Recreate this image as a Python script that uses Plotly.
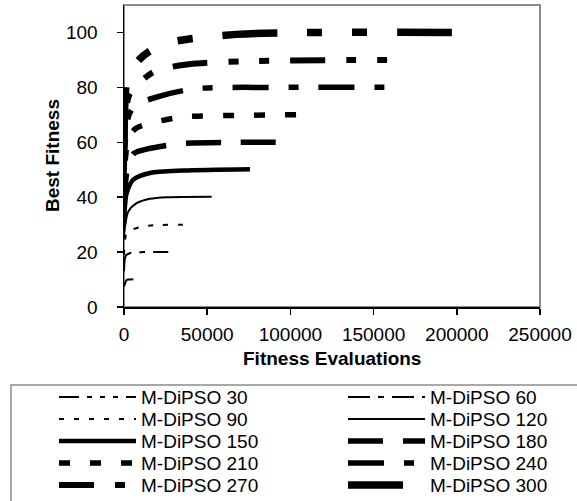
import plotly.graph_objects as go

# ---------------- data ----------------
series_names = ["M-DiPSO 30", "M-DiPSO 60", "M-DiPSO 90", "M-DiPSO 120", "M-DiPSO 150",
                "M-DiPSO 180", "M-DiPSO 210", "M-DiPSO 240", "M-DiPSO 270", "M-DiPSO 300"]

evals_30 = [0, 600, 1600, 3000, 5600]
fit_30 = [7.5, 8.5, 9.8, 10.0, 10.1]

evals_60 = [0, 600, 1600, 4600, 11600, 26600]
fit_60 = [13, 17.8, 19.0, 19.8, 20.0, 20.0]

evals_90 = [0, 1200, 2600, 9600, 18600, 39700]
fit_90 = [19, 26.3, 27.5, 29.1, 29.8, 30.0]

evals_120 = [0, 600, 2600, 7600, 15600, 25600, 52700]
fit_120 = [25, 29.3, 34.8, 37.8, 39.4, 40.0, 40.2]

evals_150 = [0, 600, 1600, 5600, 15600, 35600, 75700]
fit_150 = [30, 37, 41.5, 46.4, 48.8, 49.7, 50.2]

evals_180 = [0, 1000, 3000, 6000, 13600, 33600, 67700, 97000]
fit_180 = [36, 46, 53, 56, 57.5, 59.5, 60.0, 60.0]

evals_210 = [0, 1000, 3000, 7000, 12600, 33600, 69700, 111000]
fit_210 = [42, 55, 62, 65, 66.4, 69.1, 69.8, 70.1]

evals_240 = [0, 1000, 3000, 7000, 21600, 42700, 93800, 166000]
fit_240 = [48, 62, 70, 73.5, 76.8, 79.5, 80.0, 80.0]

evals_270 = [0, 1000, 3000, 8000, 18600, 37700, 71700, 166000]
fit_270 = [54, 70, 77, 81, 85.9, 88.3, 89.5, 90.0]

evals_300 = [0, 1500, 4000, 9000, 15000, 25000, 43700, 67700, 97700, 205000]
fit_300 = [60, 82, 86, 90, 93, 96, 98, 99.3, 99.9, 100.0]

all_evals = [evals_30, evals_60, evals_90, evals_120, evals_150,
             evals_180, evals_210, evals_240, evals_270, evals_300]
all_fits = [fit_30, fit_60, fit_90, fit_120, fit_150,
            fit_180, fit_210, fit_240, fit_270, fit_300]

x_ticks = [0, 50000, 100000, 150000, 200000, 250000]
y_ticks = [0, 20, 40, 60, 80, 100]

# ---------------- styles ----------------
widths = [2, 2, 2, 2, 4.5, 5.5, 5.5, 5.5, 6, 7.5]
dashes = ["20px,8px,5px,8px,5px,8px,5px,8px",
          "22px,8px,6px,8px",
          "5px,10px",
          "solid",
          "solid",
          "35px,20px",
          "11px,20px",
          "36px,20px,10px,20px",
          "35px,21px,10px,21px,10px,21px",
          "55px,30px,15px,30px,15px,30px"]

FONT = "Liberation Sans, Arial, sans-serif"
W, H = 577, 501
L, R, T, B = 124, 540, 5, 307  # plot area in pixels

fig = go.Figure()
for name, xs, ys, w, d in zip(series_names, all_evals, all_fits, widths, dashes):
    fig.add_trace(go.Scatter(x=xs, y=ys, mode="lines", name=name,
                             line=dict(color="black", width=w, dash=d,
                                       shape="spline", smoothing=0.8),
                             showlegend=False, hoverinfo="skip"))


def px_x(p):
    return (p - L) / (R - L)


def px_y(p):
    return (B - p) / (B - T)


shapes = []
annotations = []
# plot-area border (gray)
shapes.append(dict(type="rect", xref="paper", yref="paper", x0=0, y0=0, x1=1, y1=1,
                   line=dict(color="#8c8c8c", width=2), layer="below"))
# legend box
shapes.append(dict(type="rect", xref="paper", yref="paper",
                   x0=px_x(11), x1=px_x(590), y0=px_y(385), y1=px_y(520),
                   line=dict(color="#8c8c8c", width=1.5)))

col_line = [(59, 136), (348, 425)]
col_text = [139, 428]
for i, (name, w, d) in enumerate(zip(series_names, widths, dashes)):
    row, col = divmod(i, 2)
    yc = 397 + 22 * row
    x0, x1 = col_line[col]
    shapes.append(dict(type="line", xref="paper", yref="paper",
                       x0=px_x(x0), x1=px_x(x1), y0=px_y(yc), y1=px_y(yc),
                       line=dict(color="black", width=w, dash=d)))
    annotations.append(dict(text=name, xref="paper", yref="paper",
                            x=px_x(col_text[col]), y=px_y(yc),
                            xanchor="left", yanchor="middle", showarrow=False,
                            font=dict(family=FONT, size=19, color="black")))

annotations.append(dict(text="<b>Fitness Evaluations</b>", xref="paper", yref="paper",
                        x=0.5, y=px_y(358), xanchor="center", yanchor="middle",
                        showarrow=False, font=dict(family=FONT, size=19, color="black")))
annotations.append(dict(text="<b>Best Fitness</b>", xref="paper", yref="paper",
                        x=px_x(52), y=0.5, xanchor="center", yanchor="middle",
                        textangle=-90, showarrow=False,
                        font=dict(family=FONT, size=19, color="black")))

fig.update_layout(
    width=W, height=H,
    margin=dict(l=L, r=W - R, t=T, b=H - B, pad=0),
    paper_bgcolor="white", plot_bgcolor="white",
    font=dict(family=FONT, size=19, color="black"),
    showlegend=False, hovermode=False,
    shapes=shapes, annotations=annotations,
    xaxis=dict(range=[0, 250000], tickvals=x_ticks, ticktext=[str(v) for v in x_ticks],
               showgrid=False, zeroline=False, showline=True, linecolor="black",
               linewidth=1.5, ticks="outside", ticklen=6, tickwidth=1.5,
               tickcolor="black", ticklabelstandoff=4,
               tickfont=dict(family=FONT, size=19)),
    yaxis=dict(range=[0, 110], tickvals=y_ticks, ticktext=[str(v) for v in y_ticks],
               showgrid=False, zeroline=False, showline=True, linecolor="black",
               linewidth=1.5, ticks="outside", ticklen=6, tickwidth=1.5,
               tickcolor="black", ticklabelstandoff=15,
               tickfont=dict(family=FONT, size=19)),
)

fig.write_html("out.html", config={"displayModeBar": False, "staticPlot": True},
               post_script="document.body.style.margin='0px';document.body.style.overflow='hidden';")
